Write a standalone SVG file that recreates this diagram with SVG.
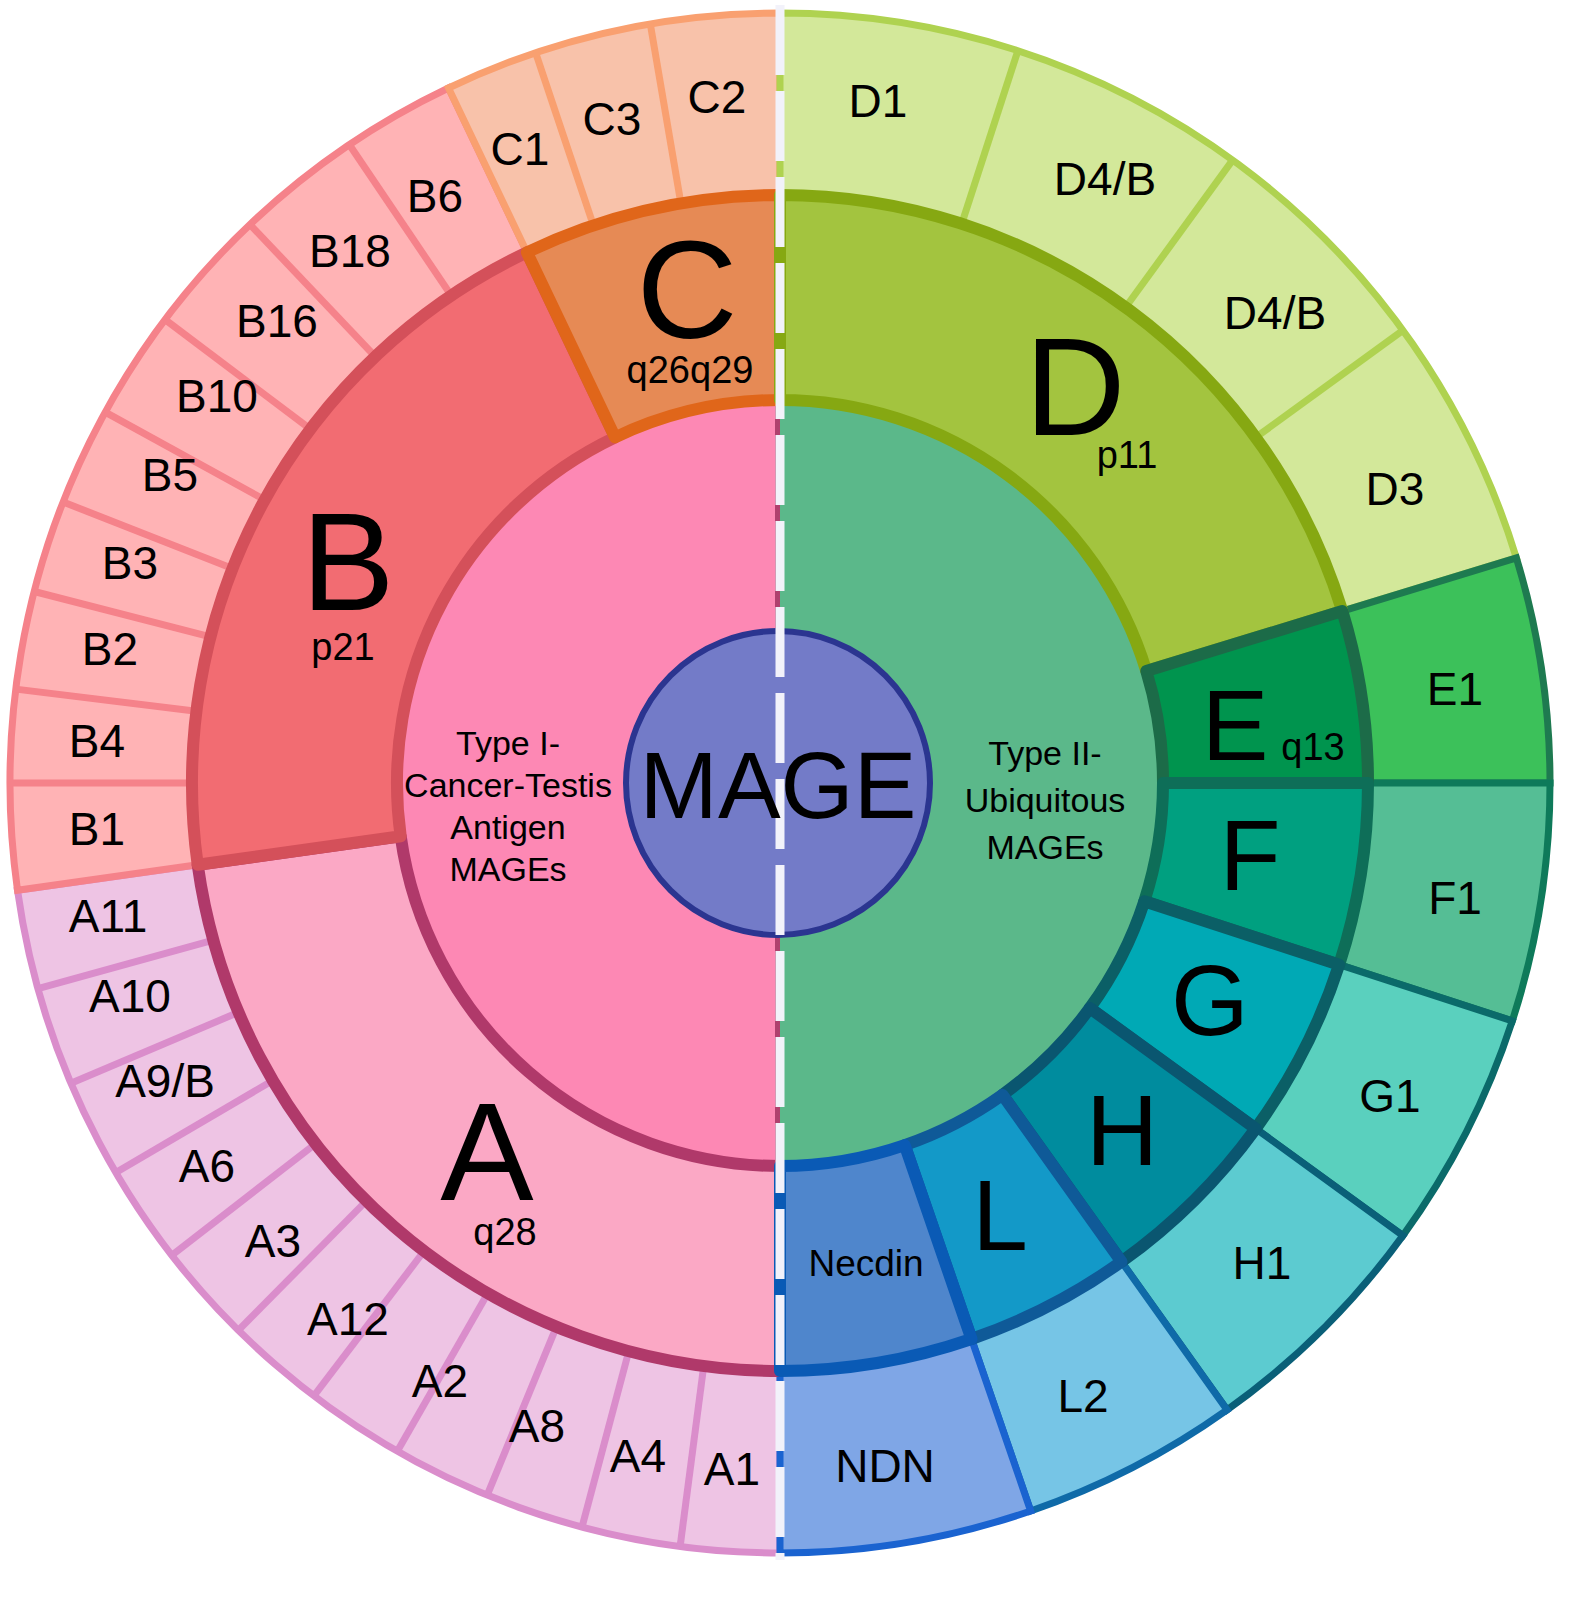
<svg xmlns="http://www.w3.org/2000/svg" width="1594" height="1600" viewBox="0 0 1594 1600">
<style>
text{font-family:"Liberation Sans",Arial,sans-serif;fill:#000;text-anchor:middle}
.o{font-size:46px}
.big{font-size:140px}
.mid{font-size:100px}
.sub{font-size:38px}
.in{font-size:34px}
.m{stroke-width:12;stroke-linejoin:round}
.t{stroke-width:7}
</style>
<rect width="1594" height="1600" fill="#fff"/>
<g id="inner">
<path d="M780,400 A383,383 0 0 0 780,1166 Z" fill="#FD88B4" stroke="#B0406E" stroke-width="10"/>
<path d="M780,400 A383,383 0 0 1 780,1166 Z" fill="#5BB88A"/>
</g>
<g id="outer">
<path id="A-out" class="t" d="M780,1553 A770,770 0 0 1 17.5,890.2 L197.7,864.8 A588,588 0 0 0 780,1371 Z" fill="#EEC4E4" stroke="#DA8DCB"/>
<path id="B-out" class="t" d="M17.5,890.2 A770,770 0 0 1 448.5,88 L526.9,252.3 A588,588 0 0 0 197.7,864.8 Z" fill="#FFB3B5" stroke="#F5828A"/>
<path id="C-out" class="t" d="M448.5,88 A770,770 0 0 1 780,13 L780,195 A588,588 0 0 0 526.9,252.3 Z" fill="#F8C2AA" stroke="#F9A070"/>
<path id="D-out" class="t" d="M780,13 A770,770 0 0 1 1516.4,557.9 L1342.3,611.1 A588,588 0 0 0 780,195 Z" fill="#D3E89A" stroke="#AFD250"/>
<path id="E1" class="t" d="M1516.4,557.9 A770,770 0 0 1 1550,783 L1368,783 A588,588 0 0 0 1342.3,611.1 Z" fill="#3CC15A" stroke="#1E7A50"/>
<path id="F1" class="t" d="M1550,783 A770,770 0 0 1 1512.3,1020.9 L1339.2,964.7 A588,588 0 0 0 1368,783 Z" fill="#55BE95" stroke="#0E7A5A"/>
<path id="G1" class="t" d="M1512.3,1020.9 A770,770 0 0 1 1402.9,1235.6 L1255.7,1128.6 A588,588 0 0 0 1339.2,964.7 Z" fill="#5AD0BE" stroke="#0B6A6A"/>
<path id="H1" class="t" d="M1402.9,1235.6 A770,770 0 0 1 1227.1,1409.9 L1121.5,1261.7 A588,588 0 0 0 1255.7,1128.6 Z" fill="#5CCBD0" stroke="#0A5F78"/>
<path id="L2" class="t" d="M1227.1,1409.9 A770,770 0 0 1 1030.7,1511 L971.5,1339 A588,588 0 0 0 1121.5,1261.7 Z" fill="#76C5E6" stroke="#0F6AA8"/>
<path id="NDN" class="t" d="M1030.7,1511 A770,770 0 0 1 780,1553 L780,1371 A588,588 0 0 0 971.5,1339 Z" fill="#7FA6E6" stroke="#1A63D0"/>
</g>
<g id="dividers" stroke-width="7">
<g stroke="#DA8DCB">
<line x1="703.7" y1="1366.1" x2="680.1" y2="1546.5"/>
<line x1="628.8" y1="1351.2" x2="582" y2="1527.1"/>
<line x1="556.4" y1="1326.8" x2="487.2" y2="1495.2"/>
<line x1="487.8" y1="1293.3" x2="397.3" y2="1451.2"/>
<line x1="424.1" y1="1251" x2="313.9" y2="1395.9"/>
<line x1="366.4" y1="1200.9" x2="238.4" y2="1330.3"/>
<line x1="315.6" y1="1143.7" x2="171.9" y2="1255.3"/>
<line x1="272.8" y1="1080.5" x2="115.9" y2="1172.6"/>
<line x1="238.5" y1="1012.3" x2="70.9" y2="1083.2"/>
<line x1="213.4" y1="940.1" x2="38" y2="988.7"/>
</g>
<g stroke="#F5828A">
<line x1="192" y1="783" x2="10" y2="783"/>
<line x1="196.4" y1="711.3" x2="15.8" y2="689.1"/>
<line x1="210.5" y1="636.8" x2="34.2" y2="591.5"/>
<line x1="232.5" y1="568.4" x2="63.1" y2="502"/>
<line x1="264.7" y1="499.8" x2="105.2" y2="412.1"/>
<line x1="310.4" y1="429.1" x2="165.1" y2="319.6"/>
<line x1="375.2" y1="356.5" x2="249.9" y2="224.4"/>
<line x1="451.2" y1="295.5" x2="349.4" y2="144.7"/>
</g>
<g stroke="#F9A070">
<line x1="593.4" y1="225.4" x2="535.7" y2="52.8"/>
<line x1="680.9" y1="203.4" x2="650.3" y2="24"/>
</g>
<g stroke="#AFD250">
<line x1="961.7" y1="223.8" x2="1017.9" y2="50.7"/>
<line x1="1125.6" y1="307.3" x2="1232.6" y2="160.1"/>
<line x1="1255.7" y1="437.4" x2="1402.9" y2="330.4"/>
</g>
</g>
<g id="middle">
<path id="A" class="m" d="M780,1371 A588,588 0 0 1 197.7,864.8 L400.7,836.3 A383,383 0 0 0 780,1166 Z" fill="#FBA8C5" stroke="#B0396A"/>
<path id="B" class="m" d="M197.7,864.8 A588,588 0 0 1 526.9,252.3 L615.1,437.3 A383,383 0 0 0 400.7,836.3 Z" fill="#F26C72" stroke="#D4505A"/>
<path id="C" class="m" d="M526.9,252.3 A588,588 0 0 1 780,195 L780,400 A383,383 0 0 0 615.1,437.3 Z" fill="#E68A55" stroke="#E0661A"/>
<path id="D" class="m" d="M780,195 A588,588 0 0 1 1342.3,611.1 L1146.3,671 A383,383 0 0 0 780,400 Z" fill="#A3C43F" stroke="#86A812"/>
<path id="E" class="m" d="M1342.3,611.1 A588,588 0 0 1 1368,783 L1163,783 A383,383 0 0 0 1146.3,671 Z" fill="#00944E" stroke="#1C6B48"/>
<path id="F" class="m" d="M1368,783 A588,588 0 0 1 1339.2,964.7 L1144.3,901.3 A383,383 0 0 0 1163,783 Z" fill="#00A080" stroke="#0E6E58"/>
<path id="G" class="m" d="M1339.2,964.7 A588,588 0 0 1 1255.7,1128.6 L1089.8,1008.1 A383,383 0 0 0 1144.3,901.3 Z" fill="#00A9B5" stroke="#0B5F66"/>
<path id="H" class="m" d="M1255.7,1128.6 A588,588 0 0 1 1121.5,1261.7 L1002.4,1094.8 A383,383 0 0 0 1089.8,1008.1 Z" fill="#008C9E" stroke="#0A5670"/>
<path id="L" class="m" d="M1121.5,1261.7 A588,588 0 0 1 971.5,1339 L904.7,1145.1 A383,383 0 0 0 1002.4,1094.8 Z" fill="#1399C8" stroke="#0F5A98"/>
<path id="Necdin" class="m" d="M971.5,1339 A588,588 0 0 1 780,1371 L780,1166 A383,383 0 0 0 904.7,1145.1 Z" fill="#4F86CC" stroke="#0A5AB5"/>
</g>
<g id="center">
<circle cx="778" cy="783" r="152" fill="#737BC8" stroke="#2B3590" stroke-width="6"/>
</g>
<line x1="780" y1="5" x2="780" y2="1560" stroke="#F2F2FA" stroke-width="9" stroke-dasharray="70 16"/>
<g id="labels">
<text x="778" y="818" font-size="94">MAGE</text>
<g class="in">
<text x="508" y="755">Type I-</text>
<text x="508" y="797">Cancer-Testis</text>
<text x="508" y="839">Antigen</text>
<text x="508" y="881">MAGEs</text>
<text x="1045" y="765">Type II-</text>
<text x="1045" y="812">Ubiquitous</text>
<text x="1045" y="859">MAGEs</text>
</g>
<text class="big" x="687" y="338" font-size="130">C</text>
<text class="sub" x="690" y="383">q26q29</text>
<text class="big" x="348" y="610">B</text>
<text class="sub" x="343" y="660">p21</text>
<text class="big" x="487" y="1200">A</text>
<text class="sub" x="505" y="1245">q28</text>
<text class="big" x="1075" y="435" font-size="155">D</text>
<text class="sub" x="1127" y="468">p11</text>
<text class="mid" x="1235" y="760">E</text>
<text class="sub" x="1313" y="760">q13</text>
<text class="mid" x="1250" y="890">F</text>
<text class="mid" x="1210" y="1035">G</text>
<text class="mid" x="1122" y="1165">H</text>
<text class="mid" x="1000" y="1250">L</text>
<text x="866" y="1276" font-size="37">Necdin</text>
<g class="o">
<text x="732" y="1485">A1</text>
<text x="638" y="1472">A4</text>
<text x="537" y="1442">A8</text>
<text x="440" y="1397">A2</text>
<text x="348" y="1335">A12</text>
<text x="273" y="1257">A3</text>
<text x="207" y="1182">A6</text>
<text x="165" y="1097">A9/B</text>
<text x="130" y="1012">A10</text>
<text x="108" y="932">A11</text>
<text x="97" y="845">B1</text>
<text x="97" y="757">B4</text>
<text x="110" y="665">B2</text>
<text x="130" y="579">B3</text>
<text x="170" y="491">B5</text>
<text x="217" y="412">B10</text>
<text x="277" y="337">B16</text>
<text x="350" y="267">B18</text>
<text x="435" y="212">B6</text>
<text x="520" y="165">C1</text>
<text x="612" y="135">C3</text>
<text x="717" y="113">C2</text>
<text x="878" y="117">D1</text>
<text x="1105" y="195">D4/B</text>
<text x="1275" y="329">D4/B</text>
<text x="1395" y="505">D3</text>
<text x="1455" y="705">E1</text>
<text x="1455" y="914">F1</text>
<text x="1390" y="1112">G1</text>
<text x="1262" y="1279">H1</text>
<text x="1083" y="1412">L2</text>
<text x="885" y="1482">NDN</text>
</g>
</g>
</svg>
